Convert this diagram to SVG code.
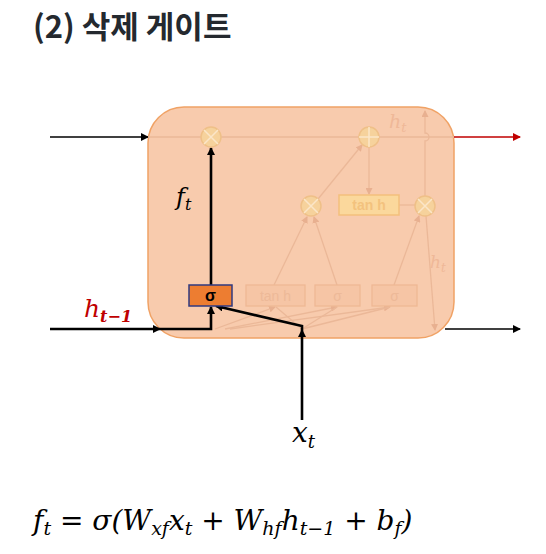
<svg xmlns="http://www.w3.org/2000/svg" width="546" height="554" viewBox="0 0 546 554">
<style>
.title{font-family:"Noto Sans CJK KR","Noto Sans",sans-serif;font-weight:bold;font-size:31px;fill:#24292f}
.math{font-family:"DejaVu Serif","Liberation Serif",serif;font-style:italic}
.faint{stroke:#ebb898;stroke-width:1.3;fill:none}
.circ{fill:#f6d29c;stroke:#efc088;stroke-width:1.5}
.x{stroke:#fbe6c8;stroke-width:1.5}
.fbox{fill:#f6c5a5;stroke:#efb894;stroke-width:1.3}
.ftxt{font-family:"Liberation Sans",Arial,sans-serif;font-size:14px;fill:#edb998;text-anchor:middle}
.blk{stroke:#000;stroke-width:2.6;fill:none}
</style>
<defs>
<marker id="ab" markerWidth="8" markerHeight="8" refX="7" refY="4" orient="auto" markerUnits="userSpaceOnUse"><path d="M0,0 L8,4 L0,8 z" fill="#000"/></marker>
<marker id="ar" markerWidth="8" markerHeight="8" refX="7" refY="4" orient="auto" markerUnits="userSpaceOnUse"><path d="M0,0 L8,4 L0,8 z" fill="#c00000"/></marker>
<marker id="af" markerWidth="7" markerHeight="7" refX="6" refY="3.5" orient="auto" markerUnits="userSpaceOnUse"><path d="M0,0 L7,3.5 L0,7 z" fill="#e8b090"/></marker>
</defs>
<rect width="546" height="554" fill="#fff"/>
<text class="title" x="33" y="38">(2) 삭제 게이트</text>

<g id="cell">
<rect x="148" y="107" width="306" height="231" rx="36" ry="36" fill="#f8cbad" stroke="#f0a265" stroke-width="1.5"/>
</g>

<g id="connectors">
<line x1="50" y1="137" x2="148" y2="137" stroke="#000" stroke-width="1.3" marker-end="url(#ab)"/>
<line x1="148" y1="137" x2="454" y2="137" class="faint"/>
<line x1="454" y1="137" x2="520" y2="137" stroke="#c00000" stroke-width="1.5" marker-end="url(#ar)"/>
<line x1="318" y1="199" x2="362" y2="145" class="faint" marker-end="url(#af)"/>
<line x1="369" y1="147" x2="369" y2="194" class="faint" marker-end="url(#af)"/>
<line x1="399" y1="205" x2="415" y2="205" class="faint"/>
<path d="M425,196 L425,141 A4,4 0 0 0 425,133 L425,111" class="faint" marker-end="url(#af)"/>
<line x1="426" y1="216" x2="435" y2="330" class="faint" marker-end="url(#af)"/>
<line x1="274" y1="285" x2="307" y2="217" class="faint" marker-end="url(#af)"/>
<line x1="337" y1="285" x2="314" y2="217" class="faint" marker-end="url(#af)"/>
<line x1="394" y1="285" x2="419" y2="216" class="faint" marker-end="url(#af)"/>
<line x1="215" y1="329" x2="275" y2="307" class="faint" marker-end="url(#af)"/>
<line x1="225" y1="329" x2="337" y2="307" class="faint" marker-end="url(#af)"/>
<line x1="230" y1="329" x2="390" y2="307" class="faint" marker-end="url(#af)"/>
<line x1="302" y1="329" x2="276" y2="307" class="faint"/>
<line x1="302" y1="329" x2="337" y2="307" class="faint"/>
<line x1="302" y1="329" x2="390" y2="307" class="faint"/>
<line x1="445" y1="329" x2="520" y2="329" stroke="#000" stroke-width="1.3" marker-end="url(#ab)"/>
<line x1="50" y1="329" x2="160" y2="329" class="blk" marker-end="url(#ab)"/>
<polyline points="160,329 211,329 211,307" class="blk" marker-end="url(#ab)"/>
<line x1="302" y1="420" x2="302" y2="330" class="blk" marker-end="url(#ab)"/>
<polyline points="302,330 302,326 216,306" class="blk" marker-end="url(#ab)"/>
<line x1="211" y1="285" x2="211" y2="148" class="blk" marker-end="url(#ab)"/>
</g>

<g id="mult-forget">
<circle cx="211" cy="137" r="10" class="circ"/>
<path d="M204,130 L218,144 M218,130 L204,144" class="x"/>
</g>
<g id="add">
<circle cx="369" cy="137" r="10" class="circ"/>
<path d="M359,137 L379,137 M369,127 L369,147" class="x"/>
</g>
<g id="mult-input">
<circle cx="311" cy="206" r="10" class="circ"/>
<path d="M304,199 L318,213 M318,199 L304,213" class="x"/>
</g>
<g id="mult-output">
<circle cx="425" cy="206" r="10" class="circ"/>
<path d="M418,199 L432,213 M432,199 L418,213" class="x"/>
</g>
<g id="tanh-top">
<rect x="339" y="195" width="60" height="20" fill="#fbd89c" stroke="#f3c07c" stroke-width="1.5"/>
<text class="ftxt" x="369" y="210" style="fill:#f3c27e;font-weight:bold">tan h</text>
</g>
<g id="sigma-forget">
<rect x="189" y="285" width="43" height="21" fill="#ed7d31" stroke="#2f3a80" stroke-width="1.5"/>
<text x="210.5" y="301" font-family="Liberation Sans,Arial,sans-serif" font-size="16" font-weight="bold" text-anchor="middle" fill="#000">σ</text>
</g>
<g id="tanh-bottom">
<rect x="246" y="285" width="59" height="21" class="fbox"/>
<text class="ftxt" x="275.5" y="301">tan h</text>
</g>
<g id="sigma-input">
<rect x="315" y="285" width="45" height="21" class="fbox"/>
<text class="ftxt" x="337.5" y="301">σ</text>
</g>
<g id="sigma-output">
<rect x="372" y="285" width="45" height="21" class="fbox"/>
<text class="ftxt" x="394.5" y="301">σ</text>
</g>

<g id="labels">
<text class="math" x="176" y="205" font-size="24" fill="#000">f<tspan font-size="16" dy="5">t</tspan></text>
<text class="math" x="84" y="317" font-size="25" fill="#c00000">h<tspan font-size="16" dy="5" font-weight="bold">t−1</tspan></text>
<text class="math" x="292" y="442" font-size="28" fill="#000">x<tspan font-size="18" dy="6">t</tspan></text>
<text class="math" x="389" y="128" font-size="19" fill="#efb898">h<tspan font-size="13" dy="4">t</tspan></text>
<text class="math" x="430" y="268" font-size="17" fill="#efb898">h<tspan font-size="12" dy="4">t</tspan></text>
</g>

<g id="formula">
<text class="math" x="33" y="530" font-size="28" fill="#000" font-style="normal"><tspan font-style="italic">f</tspan><tspan font-style="italic" font-size="19" dy="5">t</tspan><tspan dy="-5"> = </tspan><tspan font-style="italic">σ</tspan>(<tspan font-style="italic">W</tspan><tspan font-style="italic" font-size="19" dy="5">xf</tspan><tspan font-style="italic" dy="-5">x</tspan><tspan font-style="italic" font-size="19" dy="5">t</tspan><tspan dy="-5"> + </tspan><tspan font-style="italic">W</tspan><tspan font-style="italic" font-size="19" dy="5">hf</tspan><tspan font-style="italic" dy="-5">h</tspan><tspan font-size="19" dy="5"><tspan font-style="italic">t</tspan>−1</tspan><tspan dy="-5"> + </tspan><tspan font-style="italic">b</tspan><tspan font-style="italic" font-size="19" dy="5">f</tspan><tspan dy="-5">)</tspan></text>
</g>
</svg>
